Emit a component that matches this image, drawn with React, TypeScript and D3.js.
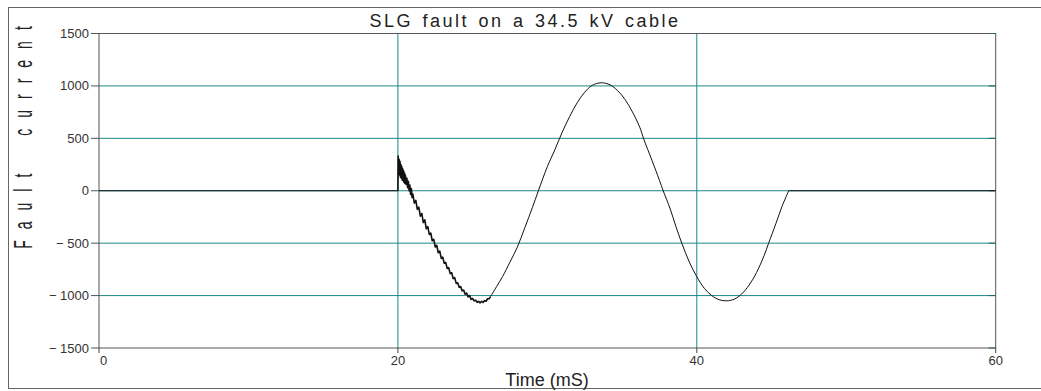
import React, { useEffect, useRef } from 'react';
import * as d3 from 'd3';

// fault current trace (time in mS, current in A)
const timeMs = [
  0, 20.0, 20.02, 20.05, 20.08, 20.11, 20.14, 20.17, 20.2, 20.23, 20.26, 20.29, 20.32, 20.35, 20.38,
  20.41, 20.44, 20.47, 20.5, 20.55, 20.6, 20.65, 20.7, 20.75, 20.8, 20.85, 20.9, 20.95,
  21.0, 21.1, 21.2, 21.3, 21.4, 21.5, 21.6, 21.7, 21.8, 21.9,
  22.0, 22.1, 22.2, 22.3, 22.4, 22.5, 22.6, 22.7, 22.8, 22.9,
  23.0, 23.1, 23.2, 23.3, 23.4, 23.5, 23.6, 23.7, 23.8, 23.9,
  24.0, 24.1, 24.2, 24.3, 24.4, 24.5, 24.6, 24.7, 24.8, 24.9,
  25.0, 25.1, 25.2, 25.3, 25.4, 25.5, 25.6, 25.7, 25.8, 25.9,
  26.0, 26.1, 26.2, 26.6, 27.0, 27.5, 28.0, 28.5, 29.0, 29.4, 30.0, 30.5,
  31.0, 31.5, 32.0, 32.5, 33.0, 33.6, 34.2, 34.7, 35.2, 35.7, 36.2, 36.45, 37.0, 37.5, 37.75,
  38.2, 38.6, 39.0, 39.5, 40.0, 40.5, 41.0, 41.5, 42.0, 42.5, 43.0, 43.5, 44.0, 44.5, 44.8,
  45.3, 45.7, 46.15, 60,
];
const currentA = [
  0, 0, 330, 180, 300, 150, 280, 130, 250, 120, 230, 100, 210, 95, 190,
  80, 170, 70, 150, 60, 120, 30, 90, 0, 55, -35, 20, -65,
  -32, -118, -92, -178, -157, -243, -217, -303, -277, -363,
  -343, -417, -403, -477, -463, -537, -520, -592, -575, -645,
  -634, -691, -684, -741, -734, -791, -782, -838, -829, -884,
  -878, -920, -914, -955, -948, -987, -976, -1012, -1000, -1036,
  -1028, -1050, -1044, -1064, -1055, -1069, -1054, -1066, -1048, -1054,
  -1030, -1030, -1010, -915, -820, -680, -535, -350, -160, 0, 230, 390,
  560, 710, 840, 940, 1005, 1030, 1010, 955, 870, 750, 600, 493, 290, 100, 0,
  -165, -340, -502, -680, -820, -930, -1000, -1040, -1050, -1035, -985, -900, -780, -620, -502,
  -310, -150, 0, 0,
];

const yTicks = [-1500, -1000, -500, 0, 500, 1000, 1500];
const xTicks = [0, 20, 40, 60];
const gridY = [-1000, -500, 0, 500, 1000];
const gridX = [20, 40];

const faultStart = 20;
const noiseEnd = 26.2;
const faultCleared = 46.15;

const App = () => {
  const ref = useRef<SVGSVGElement>(null);

  useEffect(() => {
    const svg = d3.select(ref.current);
    svg.selectAll('*').remove();

    const x = d3.scaleLinear().domain([0, 60]).range([99, 995.7]);
    const y = d3.scaleLinear().domain([-1500, 1500]).range([348, 33.5]);
    const font = '"Liberation Sans", Arial, sans-serif';
    const teal = '#1a8787';
    const fmt = (d: number) => (d < 0 ? `\u2212 ${Math.abs(d)}` : `${d}`);

    // outer frame
    svg.append('rect')
      .attr('x', 8.5).attr('y', 7.5)
      .attr('width', 1040).attr('height', 381)
      .attr('fill', 'none').attr('stroke', '#666');

    // grid
    svg.append('g').selectAll('line').data(gridY).join('line')
      .attr('x1', x(0)).attr('x2', x(60))
      .attr('y1', d => y(d)).attr('y2', d => y(d))
      .attr('stroke', teal);
    svg.append('g').selectAll('line').data(gridX).join('line')
      .attr('x1', d => x(d)).attr('x2', d => x(d))
      .attr('y1', y(1500)).attr('y2', y(-1500))
      .attr('stroke', teal);

    // plot border
    svg.append('rect')
      .attr('x', x(0)).attr('y', y(1500))
      .attr('width', x(60) - x(0)).attr('height', y(-1500) - y(1500))
      .attr('fill', 'none').attr('stroke', '#555');

    // y ticks (outside left, inside right)
    const yg = svg.append('g');
    yg.selectAll('line.l').data(yTicks).join('line').attr('class', 'l')
      .attr('x1', x(0) - 8).attr('x2', x(0))
      .attr('y1', d => y(d)).attr('y2', d => y(d))
      .attr('stroke', '#555');
    yg.selectAll('line.r').data(yTicks).join('line').attr('class', 'r')
      .attr('x1', x(60) - 7).attr('x2', x(60))
      .attr('y1', d => y(d)).attr('y2', d => y(d))
      .attr('stroke', '#2f5f5f');
    yg.selectAll('text').data(yTicks).join('text')
      .attr('x', x(0) - 10).attr('y', d => y(d) + 4.5)
      .attr('text-anchor', 'end')
      .attr('font-family', font).attr('font-size', 13).attr('fill', '#333')
      .text(fmt);

    // x ticks
    const xg = svg.append('g');
    xg.selectAll('line').data(xTicks).join('line')
      .attr('x1', d => x(d)).attr('x2', d => x(d))
      .attr('y1', y(-1500)).attr('y2', y(-1500) + 5)
      .attr('stroke', '#444');
    xg.selectAll('text').data(xTicks).join('text')
      .attr('x', d => (d === 0 ? x(d) + 4.5 : x(d)))
      .attr('y', 365)
      .attr('text-anchor', 'middle')
      .attr('font-family', font).attr('font-size', 13).attr('fill', '#333')
      .text(fmt);

    // fault current trace: flat pre-fault, noisy onset, smooth wave, flat after clearing
    const pts = timeMs.map((t, i) => [t, currentA[i]] as [number, number]);
    const pre = pts.filter(d => d[0] <= faultStart);
    const noisy = pts.filter(d => d[0] >= faultStart && d[0] <= noiseEnd);
    const wave = pts.filter(d => d[0] >= noiseEnd && d[0] <= faultCleared);
    const tail = pts.filter(d => d[0] >= faultCleared);

    const lin = d3.line<[number, number]>().x(d => x(d[0])).y(d => y(d[1]));
    const smooth = d3.line<[number, number]>()
      .x(d => x(d[0])).y(d => y(d[1]))
      .curve(d3.curveCatmullRom.alpha(0.5));

    const trace = svg.append('g').attr('fill', 'none').attr('stroke', '#111');
    trace.append('path').attr('d', lin(pre)).attr('stroke-width', 1);
    trace.append('path').attr('d', lin(noisy)).attr('stroke-width', 1.6).attr('stroke-linejoin', 'round');
    trace.append('path').attr('d', smooth(wave)).attr('stroke-width', 1);
    trace.append('path').attr('d', lin(tail)).attr('stroke-width', 1);

    // titles
    svg.append('text')
      .attr('x', 525).attr('y', 27)
      .attr('text-anchor', 'middle')
      .attr('font-family', font).attr('font-size', 18)
      .attr('letter-spacing', 2.5).attr('word-spacing', 2)
      .attr('fill', '#222')
      .text('SLG fault on a 34.5 kV cable');

    svg.append('text')
      .attr('x', 547).attr('y', 386)
      .attr('text-anchor', 'middle')
      .attr('font-family', font).attr('font-size', 18)
      .attr('fill', '#222')
      .text('Time (mS)');

    svg.append('text')
      .attr('transform', 'translate(32,132) rotate(-90) scale(1,1.8)')
      .attr('text-anchor', 'middle')
      .attr('font-family', font).attr('font-size', 14)
      .attr('letter-spacing', 11).attr('word-spacing', 12)
      .attr('fill', '#222')
      .text('Fault current');
  }, []);

  return (
    <svg
      ref={ref}
      width={1041}
      height={391}
      style={{ position: 'absolute', left: 0, top: 0, background: '#fff' }}
    />
  );
};

export default App;
